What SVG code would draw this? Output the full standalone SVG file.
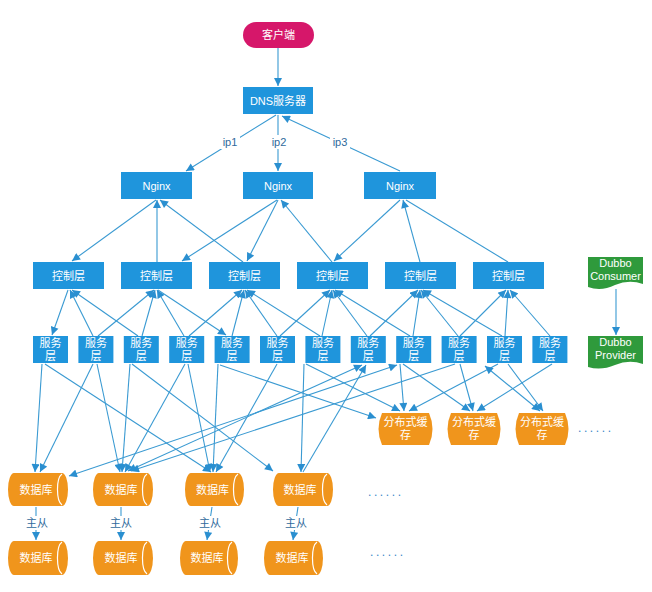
<svg xmlns="http://www.w3.org/2000/svg" width="652" height="592" viewBox="0 0 652 592">
<defs>
<marker id="a" viewBox="0 0 10 10" refX="10" refY="5" markerWidth="9" markerHeight="8" orient="auto-start-reverse" markerUnits="userSpaceOnUse"><path d="M0,0 L10,5 L0,10 z" fill="#2a8fd0"/></marker>
<style>
.t{font-family:"Liberation Sans","Noto Sans CJK SC",sans-serif;font-size:11px;fill:#fff;text-anchor:middle}
.lb{font-family:"Liberation Sans","Noto Sans CJK SC",sans-serif;font-size:11px;fill:#2f6a9c;text-anchor:middle}
.dots{font-family:"Liberation Sans",sans-serif;font-size:12px;fill:#3a86c8;letter-spacing:2.6px}
.b{fill:#1f95dc}
.o{fill:#f0951c}
.g{fill:#2f9a3c}
.c line,.c path{stroke:#3a9ad2;stroke-width:1.1;fill:none}
.e{marker-end:url(#a)}
.s{marker-start:url(#a)}
.cap{stroke:#fff;stroke-width:1.2;fill:none}
</style>
</defs>
<rect width="652" height="592" fill="#fff"/>

<g id="connectors" class="c">
<line class="e" x1="278" y1="48" x2="278" y2="86"/>
<line class="e" x1="276" y1="115" x2="186" y2="171"/>
<line class="e" x1="278" y1="115" x2="278" y2="171"/>
<line class="e" x1="400" y1="171" x2="282" y2="116"/>
<line class="e" x1="156" y1="200" x2="72" y2="261"/>
<line class="e" x1="157" y1="262" x2="157" y2="200"/>
<line class="e" x1="243" y1="262" x2="160" y2="200"/>
<line class="e" x1="277" y1="200" x2="182" y2="261"/>
<line class="e" x1="278" y1="200" x2="247" y2="261"/>
<line class="e" x1="332" y1="262" x2="281" y2="200"/>
<line class="e" x1="400" y1="200" x2="334" y2="261"/>
<line class="e" x1="420" y1="262" x2="403" y2="200"/>
<line x1="508" y1="262" x2="406" y2="200"/>
<line class="e" x1="68" y1="290" x2="52" y2="335"/>
<line class="e" x1="93" y1="336" x2="70" y2="290"/>
<line class="e" x1="138" y1="336" x2="72" y2="290"/>
<line class="e" x1="98" y1="336" x2="154" y2="290"/>
<line class="e" x1="142" y1="336" x2="155" y2="290"/>
<line class="e" x1="184" y1="336" x2="157" y2="290"/>
<line class="e" x1="158" y1="290" x2="226" y2="335"/>
<line class="e" x1="189" y1="336" x2="242" y2="290"/>
<line class="e" x1="232" y1="336" x2="244" y2="290"/>
<line class="e" x1="277" y1="336" x2="245" y2="290"/>
<line class="e" x1="320" y1="336" x2="247" y2="290"/>
<line class="e" x1="280" y1="336" x2="330" y2="290"/>
<line class="e" x1="322" y1="336" x2="332" y2="290"/>
<line class="e" x1="367" y1="336" x2="333" y2="290"/>
<line class="e" x1="410" y1="336" x2="335" y2="290"/>
<line class="e" x1="370" y1="336" x2="418" y2="290"/>
<line class="e" x1="413" y1="336" x2="420" y2="290"/>
<line class="e" x1="458" y1="336" x2="421" y2="290"/>
<line class="e" x1="502" y1="336" x2="423" y2="290"/>
<line class="e" x1="460" y1="336" x2="506" y2="290"/>
<line class="e" x1="505" y1="336" x2="508" y2="290"/>
<line class="e" x1="550" y1="336" x2="510" y2="290"/>
<line class="e" x1="42" y1="364" x2="35" y2="472"/>
<line class="e" x1="45" y1="364" x2="211" y2="472"/>
<line class="e" x1="93" y1="364" x2="40" y2="472"/>
<line class="e" x1="97" y1="364" x2="120" y2="472"/>
<line class="e" x1="130" y1="364" x2="122" y2="472"/>
<line class="e" x1="132" y1="364" x2="273" y2="471"/>
<line class="e" x1="185" y1="364" x2="125" y2="472"/>
<line class="e" x1="188" y1="364" x2="210" y2="472"/>
<line class="e" x1="218" y1="364" x2="213" y2="472"/>
<line class="e" x1="277" y1="364" x2="216" y2="472"/>
<line class="e" x1="304" y1="364" x2="301" y2="472"/>
<line class="e s" x1="397" y1="365" x2="69" y2="476"/>
<line class="e s" x1="128" y1="471" x2="362" y2="365"/>
<line class="e" x1="455" y1="364" x2="131" y2="471"/>
<line class="e" x1="303" y1="472" x2="366" y2="365"/>
<line class="e" x1="220" y1="365" x2="376" y2="418"/>
<line class="e" x1="306" y1="364" x2="400" y2="411"/>
<line class="e" x1="400" y1="364" x2="404" y2="411"/>
<line class="e" x1="498" y1="364" x2="409" y2="411"/>
<line class="e" x1="403" y1="364" x2="470" y2="411"/>
<line class="e" x1="460" y1="364" x2="473" y2="411"/>
<line class="e" x1="552" y1="364" x2="477" y2="411"/>
<line class="e s" x1="485" y1="366" x2="540" y2="411"/>
<line class="e" x1="508" y1="364" x2="543" y2="411"/>
<line class="e" x1="36" y1="507" x2="36" y2="540"/>
<line class="e" x1="121" y1="507" x2="121" y2="540"/>
<line class="e" x1="212" y1="507" x2="207" y2="540"/>
<line class="e" x1="298" y1="507" x2="293" y2="540"/>
<line class="e" x1="616" y1="289" x2="616" y2="335"/>
</g>

<g id="edge-labels">
<rect x="220" y="135" width="20" height="14" fill="#fff"/><text class="lb" x="230" y="146">ip1</text>
<rect x="269" y="135" width="20" height="14" fill="#fff"/><text class="lb" x="279" y="146">ip2</text>
<rect x="330" y="135" width="20" height="14" fill="#fff"/><text class="lb" x="340" y="146">ip3</text>
<rect x="25" y="516" width="25" height="14" fill="#fff"/><text class="lb" x="37" y="527">主从</text>
<rect x="109" y="516" width="25" height="14" fill="#fff"/><text class="lb" x="121" y="527">主从</text>
<rect x="198" y="516" width="25" height="14" fill="#fff"/><text class="lb" x="210" y="527">主从</text>
<rect x="284" y="516" width="25" height="14" fill="#fff"/><text class="lb" x="296" y="527">主从</text>
</g>

<g id="client"><rect x="243" y="22" width="71" height="26" rx="13" fill="#d6176a"/><text class="t" x="278.5" y="39">客户端</text></g>
<g id="dns"><rect class="b" x="243" y="87" width="70" height="27"/><text class="t" x="278" y="104.5">DNS服务器</text></g>

<g id="nginx1"><rect class="b" x="121" y="172" width="71" height="27"/><text class="t" x="156.5" y="189.5">Nginx</text></g>
<g id="nginx2"><rect class="b" x="243" y="172" width="70" height="27"/><text class="t" x="278" y="189.5">Nginx</text></g>
<g id="nginx3"><rect class="b" x="364" y="172" width="72" height="27"/><text class="t" x="400" y="189.5">Nginx</text></g>

<g id="ctrl1"><rect class="b" x="33" y="262" width="71" height="27"/><text class="t" x="68.5" y="279.5">控制层</text></g>
<g id="ctrl2"><rect class="b" x="121" y="262" width="71" height="27"/><text class="t" x="156.5" y="279.5">控制层</text></g>
<g id="ctrl3"><rect class="b" x="209" y="262" width="71" height="27"/><text class="t" x="244.5" y="279.5">控制层</text></g>
<g id="ctrl4"><rect class="b" x="297" y="262" width="71" height="27"/><text class="t" x="332.5" y="279.5">控制层</text></g>
<g id="ctrl5"><rect class="b" x="385" y="262" width="71" height="27"/><text class="t" x="420.5" y="279.5">控制层</text></g>
<g id="ctrl6"><rect class="b" x="473" y="262" width="71" height="27"/><text class="t" x="508.5" y="279.5">控制层</text></g>

<g id="svc1"><rect class="b" x="33" y="336" width="35" height="27"/><text class="t" x="50.5" y="347">服务</text><text class="t" x="50.5" y="360">层</text></g>
<g id="svc2"><rect class="b" x="78.4" y="336" width="35" height="27"/><text class="t" x="95.9" y="347">服务</text><text class="t" x="95.9" y="360">层</text></g>
<g id="svc3"><rect class="b" x="123.8" y="336" width="35" height="27"/><text class="t" x="141.3" y="347">服务</text><text class="t" x="141.3" y="360">层</text></g>
<g id="svc4"><rect class="b" x="169.2" y="336" width="35" height="27"/><text class="t" x="186.7" y="347">服务</text><text class="t" x="186.7" y="360">层</text></g>
<g id="svc5"><rect class="b" x="214.6" y="336" width="35" height="27"/><text class="t" x="232.1" y="347">服务</text><text class="t" x="232.1" y="360">层</text></g>
<g id="svc6"><rect class="b" x="260" y="336" width="35" height="27"/><text class="t" x="277.5" y="347">服务</text><text class="t" x="277.5" y="360">层</text></g>
<g id="svc7"><rect class="b" x="305.4" y="336" width="35" height="27"/><text class="t" x="322.9" y="347">服务</text><text class="t" x="322.9" y="360">层</text></g>
<g id="svc8"><rect class="b" x="350.8" y="336" width="35" height="27"/><text class="t" x="368.3" y="347">服务</text><text class="t" x="368.3" y="360">层</text></g>
<g id="svc9"><rect class="b" x="396.2" y="336" width="35" height="27"/><text class="t" x="413.7" y="347">服务</text><text class="t" x="413.7" y="360">层</text></g>
<g id="svc10"><rect class="b" x="441.6" y="336" width="35" height="27"/><text class="t" x="459.1" y="347">服务</text><text class="t" x="459.1" y="360">层</text></g>
<g id="svc11"><rect class="b" x="487" y="336" width="35" height="27"/><text class="t" x="504.5" y="347">服务</text><text class="t" x="504.5" y="360">层</text></g>
<g id="svc12"><rect class="b" x="532.4" y="336" width="35" height="27"/><text class="t" x="549.9" y="347">服务</text><text class="t" x="549.9" y="360">层</text></g>

<g id="cache1"><path class="o" d="M382,413 H429 Q436,429 429,445 H382 Q375,429 382,413 Z"/><text class="t" x="405.5" y="426">分布式缓</text><text class="t" x="405.5" y="439">存</text></g>
<g id="cache2"><path class="o" d="M451,413 H497 Q504,429 497,445 H451 Q444,429 451,413 Z"/><text class="t" x="474" y="426">分布式缓</text><text class="t" x="474" y="439">存</text></g>
<g id="cache3"><path class="o" d="M519,413 H565 Q572,429 565,445 H519 Q512,429 519,413 Z"/><text class="t" x="542" y="426">分布式缓</text><text class="t" x="542" y="439">存</text></g>
<text class="dots" x="578" y="432">......</text>

<g id="db1"><path class="o" d="M14,473 H62 A6,16.5 0 0 1 62,506 H14 A6,16.5 0 0 1 14,473 Z"/><path class="cap" d="M62,474 A6,16 0 0 0 62,505"/><text class="t" x="36" y="494">数据库</text></g>
<g id="db2"><path class="o" d="M99,473 H147 A6,16.5 0 0 1 147,506 H99 A6,16.5 0 0 1 99,473 Z"/><path class="cap" d="M147,474 A6,16 0 0 0 147,505"/><text class="t" x="121" y="494">数据库</text></g>
<g id="db3"><path class="o" d="M191,473 H238 A6,16.5 0 0 1 238,506 H191 A6,16.5 0 0 1 191,473 Z"/><path class="cap" d="M238,474 A6,16 0 0 0 238,505"/><text class="t" x="212.5" y="494">数据库</text></g>
<g id="db4"><path class="o" d="M279,473 H327 A6,16.5 0 0 1 327,506 H279 A6,16.5 0 0 1 279,473 Z"/><path class="cap" d="M327,474 A6,16 0 0 0 327,505"/><text class="t" x="300" y="494">数据库</text></g>
<text class="dots" x="368" y="496">......</text>

<g id="db5"><path class="o" d="M14,541 H62 A6,17 0 0 1 62,575 H14 A6,17 0 0 1 14,541 Z"/><path class="cap" d="M62,542 A6,16.5 0 0 0 62,574"/><text class="t" x="36" y="562">数据库</text></g>
<g id="db6"><path class="o" d="M99,541 H147 A6,17 0 0 1 147,575 H99 A6,17 0 0 1 99,541 Z"/><path class="cap" d="M147,542 A6,16.5 0 0 0 147,574"/><text class="t" x="121" y="562">数据库</text></g>
<g id="db7"><path class="o" d="M186,541 H232 A6,17 0 0 1 232,575 H186 A6,17 0 0 1 186,541 Z"/><path class="cap" d="M232,542 A6,16.5 0 0 0 232,574"/><text class="t" x="207" y="562">数据库</text></g>
<g id="db8"><path class="o" d="M270,541 H317 A6,17 0 0 1 317,575 H270 A6,17 0 0 1 270,541 Z"/><path class="cap" d="M317,542 A6,16.5 0 0 0 317,574"/><text class="t" x="292" y="562">数据库</text></g>
<text class="dots" x="370" y="556">......</text>

<g id="dubbo-consumer"><path class="g" d="M588,257 H643 V284 Q629,279 615,285 Q601,292 588,287 Z"/><text class="t" x="615.5" y="267">Dubbo</text><text class="t" x="615.5" y="280">Consumer</text></g>
<g id="dubbo-provider"><path class="g" d="M588,336 H643 V364 Q629,359 615,365 Q601,371 588,367 Z"/><text class="t" x="615.5" y="346">Dubbo</text><text class="t" x="615.5" y="359">Provider</text></g>
</svg>
